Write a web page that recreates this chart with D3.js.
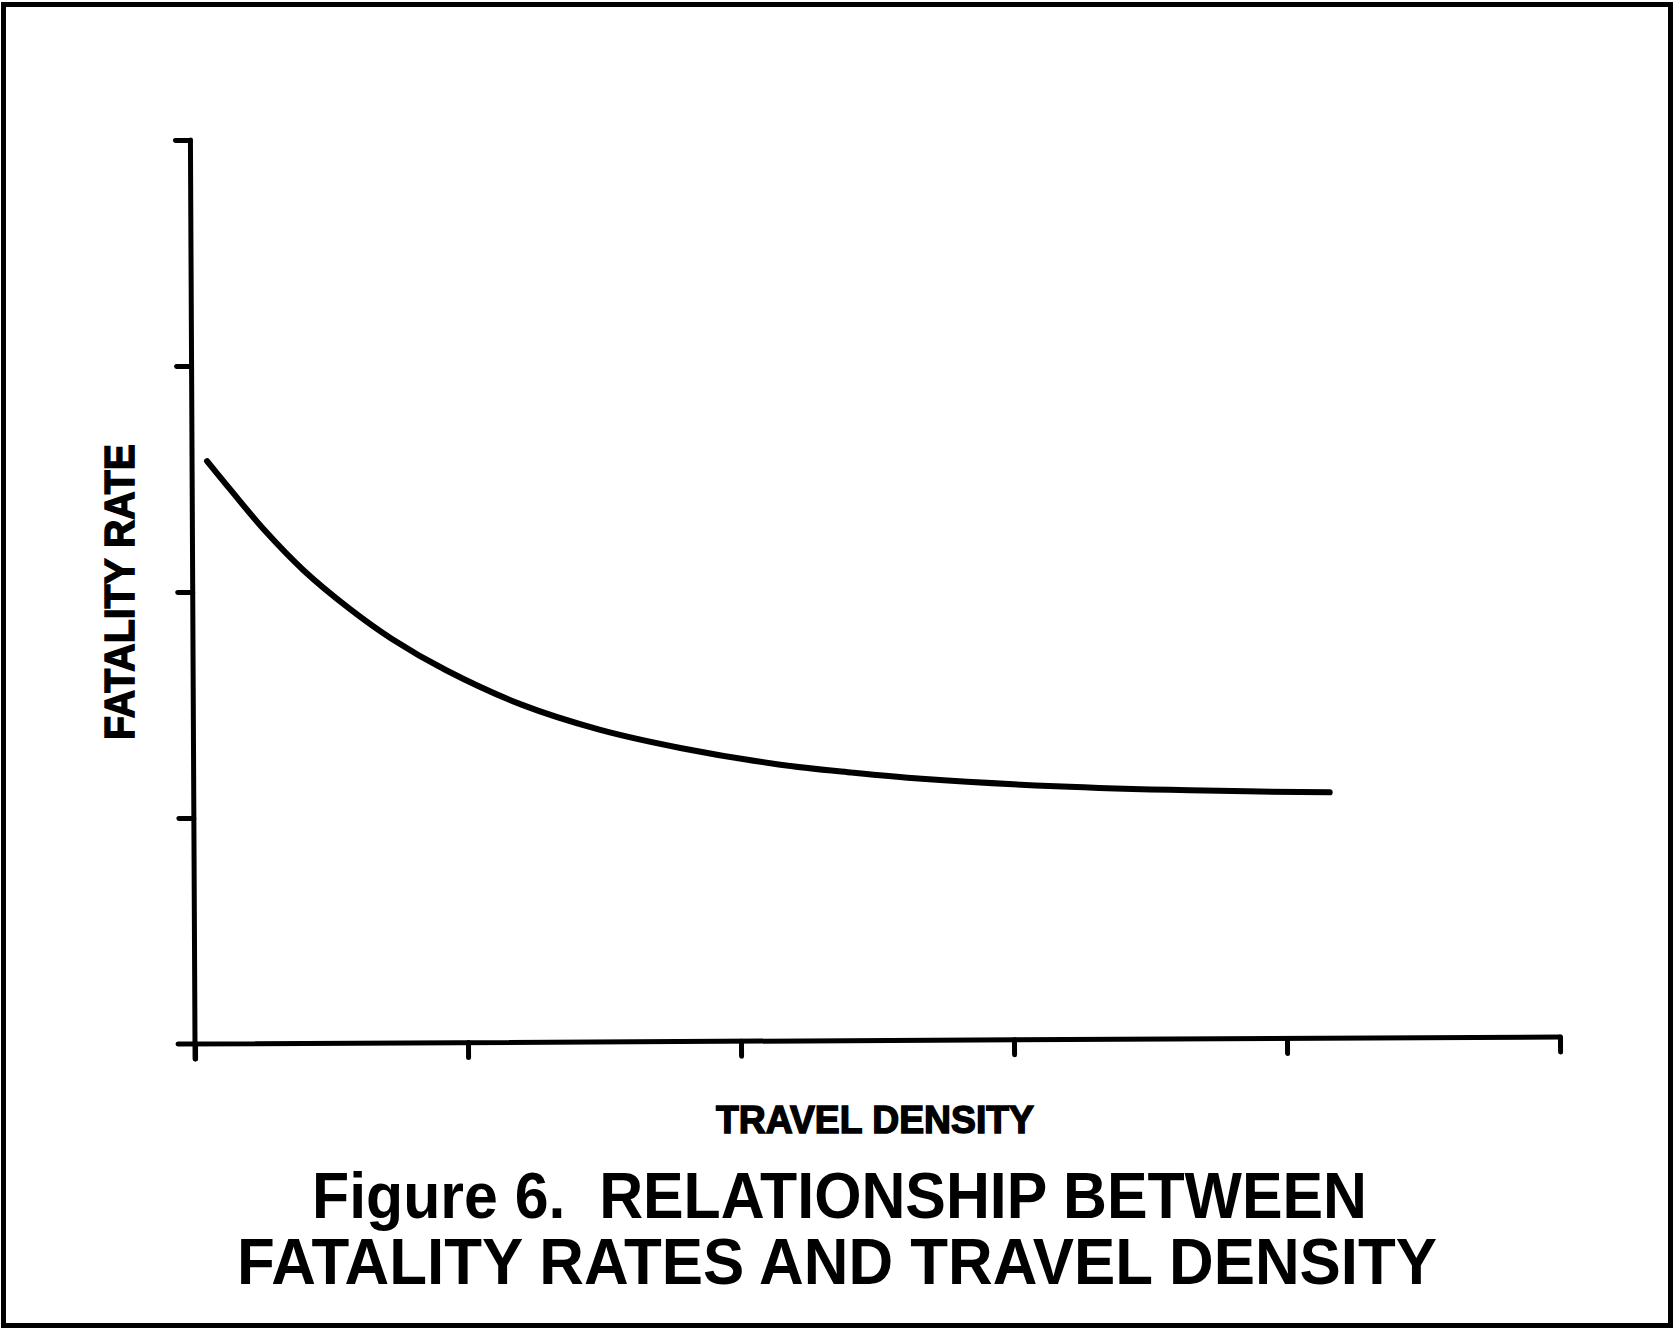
<!DOCTYPE html>
<html>
<head>
<meta charset="utf-8">
<script src="https://cdn.jsdelivr.net/npm/d3@7"></script>
<style>
  html, body { margin: 0; padding: 0; background: #fff; }
  svg { display: block; }
</style>
</head>
<body>
<script>
// ---- data (axes have no numeric labels) ----
const xTicks = [0, 1, 2, 3, 4, 5];
const yTicks = [0, 1, 2, 3, 4];
const densityX = [0.055, 0.140, 0.267, 0.407, 0.575, 0.729, 0.927, 1.205, 1.487, 1.788, 2.143, 2.414, 2.667, 3.158, 3.648, 4.161];
const fatalityY = [2.579, 2.452, 2.268, 2.093, 1.922, 1.788, 1.648, 1.493, 1.382, 1.298, 1.224, 1.186, 1.157, 1.121, 1.100, 1.088];
const xLabel = "TRAVEL DENSITY";
const yLabel = "FATALITY RATE";
const titleLines = ["Figure 6.  RELATIONSHIP BETWEEN", "FATALITY RATES AND TRAVEL DENSITY"];

const W = 1675, H = 1330;
const svg = d3.select("body").append("svg").attr("width", W).attr("height", H);

// frame
svg.append("rect").attr("x", 3.5).attr("y", 4.5).attr("width", W - 8).attr("height", H - 9)
  .attr("fill", "none").attr("stroke", "#000").attr("stroke-width", 5);

const x0 = 195, y0 = 1044;
const x = d3.scaleLinear().domain([0, 5]).range([x0, 1560]);
const y = d3.scaleLinear().domain([0, 4]).range([y0, 140]);

const g = svg.append("g").attr("transform", `rotate(-0.29, ${x0}, ${y0})`);

// x axis
const xAxis = g.append("g").attr("transform", `translate(0,${y0})`)
  .call(d3.axisBottom(x).tickValues(xTicks).tickSize(15).tickFormat(""));
// y axis
const yAxis = g.append("g").attr("transform", `translate(${x0},0)`)
  .call(d3.axisLeft(y).tickValues(yTicks.slice(1)).tickSize(15).tickFormat(""));
[xAxis, yAxis].forEach(a => {
  a.select(".domain").remove();
  a.selectAll(".tick line").attr("stroke", "#000").attr("stroke-width", 5).attr("stroke-linecap", "round");
});
// axis lines (x axis extends a bit left of the y axis)
g.append("line").attr("x1", x0 - 17).attr("x2", x(5)).attr("y1", y0).attr("y2", y0)
  .attr("stroke", "#000").attr("stroke-width", 5).attr("stroke-linecap", "round");
g.append("line").attr("x1", x0).attr("x2", x0).attr("y1", y(4)).attr("y2", y0 + 15)
  .attr("stroke", "#000").attr("stroke-width", 5).attr("stroke-linecap", "round");

// curve
const pts = densityX.map((d, i) => [d, fatalityY[i]]);
g.append("path").datum(pts)
  .attr("d", d3.line().x(d => x(d[0])).y(d => y(d[1])).curve(d3.curveCatmullRom.alpha(0.5)))
  .attr("fill", "none").attr("stroke", "#000").attr("stroke-width", 6).attr("stroke-linecap", "round");

// labels
const font = "'Liberation Sans', Arial, Helvetica, sans-serif";
svg.append("text").text(xLabel)
  .attr("x", 716).attr("y", 1133)
  .attr("textLength", 318).attr("lengthAdjust", "spacingAndGlyphs")
  .attr("font-family", font).attr("font-weight", "bold").attr("font-size", 39)
  .attr("stroke", "#000").attr("stroke-width", 1.5).attr("fill", "#000");

svg.append("text").text(yLabel)
  .attr("transform", "translate(134,740) rotate(-90)")
  .attr("textLength", 296).attr("lengthAdjust", "spacingAndGlyphs")
  .attr("font-family", font).attr("font-weight", "bold").attr("font-size", 43)
  .attr("stroke", "#000").attr("stroke-width", 1.5).attr("fill", "#000");

const titleSpec = [
  {x: 312, y: 1218, len: 1055},
  {x: 237, y: 1284, len: 1200}
];
titleLines.forEach((t, i) => {
  svg.append("text").text(t)
    .attr("x", titleSpec[i].x).attr("y", titleSpec[i].y)
    .attr("textLength", titleSpec[i].len).attr("lengthAdjust", "spacingAndGlyphs")
    .attr("font-family", font).attr("font-weight", "bold").attr("font-size", 65)
    .attr("fill", "#000").style("white-space", "pre");
});
</script>
</body>
</html>
